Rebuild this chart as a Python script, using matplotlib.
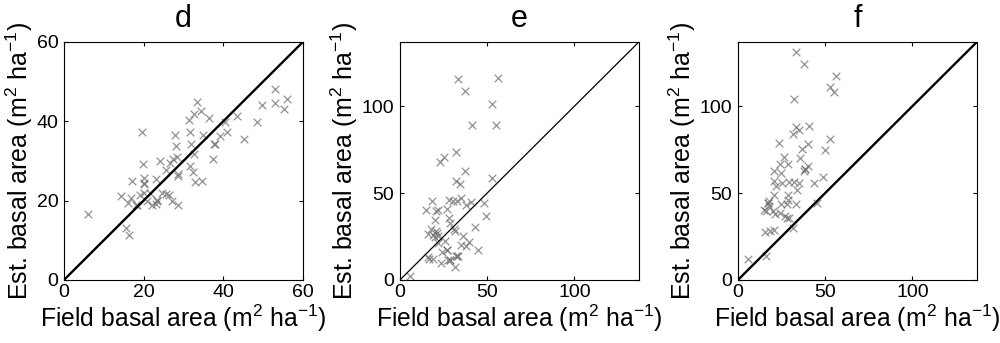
import matplotlib
matplotlib.use('Agg')
import matplotlib.pyplot as plt
import numpy as np

plt.rcParams['font.family'] = ['Liberation Sans', 'DejaVu Sans']
plt.rcParams['mathtext.default'] = 'regular'

# panel d: field vs estimated basal area
d_field = [5.9, 14.4, 15.6, 16.2, 16.1, 17.1, 16.9, 18.2, 18.3, 19.0, 19.7, 19.8,
           20.0, 20.1, 20.0, 20.0, 20.8, 21.5, 22.2, 23.0, 23.2, 23.3, 23.4, 24.0,
           24.7, 25.7, 25.7, 26.3, 26.5, 27.1, 27.4, 27.8, 28.0, 28.5, 28.6, 28.7,
           28.4, 31.3, 31.6, 31.6, 32.0, 32.4, 32.6, 32.6, 32.8, 33.4, 34.5, 34.7,
           35.0, 36.4, 37.4, 37.7, 37.8, 39.1, 40.5, 41.0, 43.5, 45.2, 48.4, 49.8,
           52.9, 52.9, 55.2, 56.0]
d_est = [16.7, 21.2, 13.0, 11.3, 19.4, 24.9, 20.6, 19.0, 19.0, 21.5, 37.2, 29.2,
         24.2, 24.3, 25.8, 21.9, 19.8, 22.0, 18.8, 19.2, 25.5, 20.0, 20.1, 29.9,
         21.9, 21.6, 27.6, 21.3, 29.5, 20.0, 30.5, 36.6, 33.7, 18.8, 26.8, 26.1,
         31.0, 40.4, 37.3, 28.6, 34.2, 27.1, 41.9, 31.8, 24.6, 44.8, 42.5, 24.8,
         36.6, 40.8, 30.5, 34.3, 34.2, 36.3, 39.8, 37.3, 41.2, 35.5, 39.8, 44.0,
         48.1, 44.5, 43.1, 45.7]

# panel e
e_field = [5.7, 33.3, 56.2, 37.1, 52.8, 41.0, 54.9, 32.0, 25.1, 23.2, 37.1, 31.9,
           34.3, 52.8, 18.5, 14.7, 20.4, 21.9, 26.7, 28.0, 30.5, 32.4, 35.2, 38.1,
           40.6, 48.2, 49.5, 20.0, 28.2, 28.6, 42.9, 16.2, 20.4, 21.0, 20.0, 21.9,
           25.7, 31.0, 31.4, 36.2, 34.9, 39.4, 44.8, 26.7, 26.8, 23.8, 32.9, 33.0,
           28.6, 28.7, 15.8, 16.8, 19.0, 23.4, 31.4, 19.0, 18.0, 21.5, 27.7, 32.2,
           37.7]
e_est = [2.5, 115.6, 116.2, 108.5, 101.0, 89.0, 89.0, 73.6, 70.7, 67.8, 62.6, 57.2,
         54.9, 58.4, 45.3, 40.5, 39.9, 40.5, 41.0, 45.9, 45.3, 45.3, 47.2, 43.0,
         44.9, 44.3, 37.0, 34.3, 35.6, 32.8, 30.4, 26.6, 28.3, 27.0, 24.5, 21.2,
         22.5, 29.3, 27.9, 25.0, 20.2, 21.8, 17.3, 17.3, 17.4, 15.8, 13.9, 14.0,
         11.6, 11.7, 12.9, 12.3, 12.3, 9.6, 7.3, 26.0, 29.0, 25.5, 11.5, 14.0,
         19.3]

# panel f
f_field = [33.3, 37.9, 55.9, 53.0, 55.1, 32.0, 40.9, 33.1, 35.2, 31.8, 52.7, 23.3,
           40.3, 36.9, 49.8, 26.1, 35.6, 24.2, 28.6, 39.9, 38.4, 20.8, 24.6, 37.9,
           48.5, 43.6, 20.8, 25.2, 29.4, 32.2, 35.0, 21.8, 33.7, 20.5, 28.9, 17.6,
           17.2, 17.3, 14.8, 16.3, 17.9, 24.6, 28.4, 28.0, 33.3, 45.1, 19.9, 21.4,
           24.2, 26.7, 28.0, 29.4, 15.5, 18.3, 20.6, 31.8, 16.1, 6.0, 38.5]
f_est = [131.4, 124.3, 117.1, 110.8, 107.9, 104.0, 88.6, 88.1, 86.1, 83.8, 81.3, 79.0,
         78.4, 75.1, 74.8, 70.7, 70.3, 66.5, 66.9, 65.5, 63.6, 62.6, 61.3, 62.6,
         59.2, 55.9, 56.8, 55.5, 56.3, 56.3, 55.5, 53.9, 51.6, 49.1, 48.6, 45.3,
         44.3, 44.4, 40.5, 39.9, 42.4, 43.7, 46.2, 43.4, 43.4, 44.3, 39.5, 38.2,
         38.5, 36.6, 35.6, 35.6, 27.3, 28.3, 28.9, 29.9, 13.5, 12.3, 63.8]

panels = [
    ('d', d_field, d_est, 60, [0, 20, 40, 60], 1.7),
    ('e', e_field, e_est, 137, [0, 50, 100], 0.9),
    ('f', f_field, f_est, 137, [0, 50, 100], 1.7),
]
lefts = [0.064, 0.400, 0.738]

fig = plt.figure(figsize=(10, 3.43), dpi=100)
for left, (title, fx, fy, lim, ticks, lw) in zip(lefts, panels):
    ax = fig.add_axes([left, 0.184, 0.239, 0.694])
    ax.plot([0, lim], [0, lim], color='black', lw=lw, zorder=3)
    ax.scatter(fx, fy, marker='x', s=30, color='#6e6e6e', alpha=0.75,
               linewidths=0.9, zorder=2)
    ax.set_xlim(0, lim)
    ax.set_ylim(0, lim)
    ax.set_xticks(ticks)
    ax.set_yticks(ticks)
    ax.tick_params(direction='in', length=3, width=0.8, top=True, right=True,
                   labelsize=14)
    ax.tick_params(axis='x', pad=3)
    ax.tick_params(axis='y', pad=4)
    for s in ax.spines.values():
        s.set_linewidth(0.8)
    ax.set_title(title, fontsize=22, pad=11)
    ax.set_xlabel('Field basal area (m$^2$ ha$^{-1}$)', fontsize=17.8, labelpad=1)
    ax.set_ylabel('Est. basal area (m$^2$ ha$^{-1}$)', fontsize=18, labelpad=1)

fig.savefig('out.png', dpi=100)
